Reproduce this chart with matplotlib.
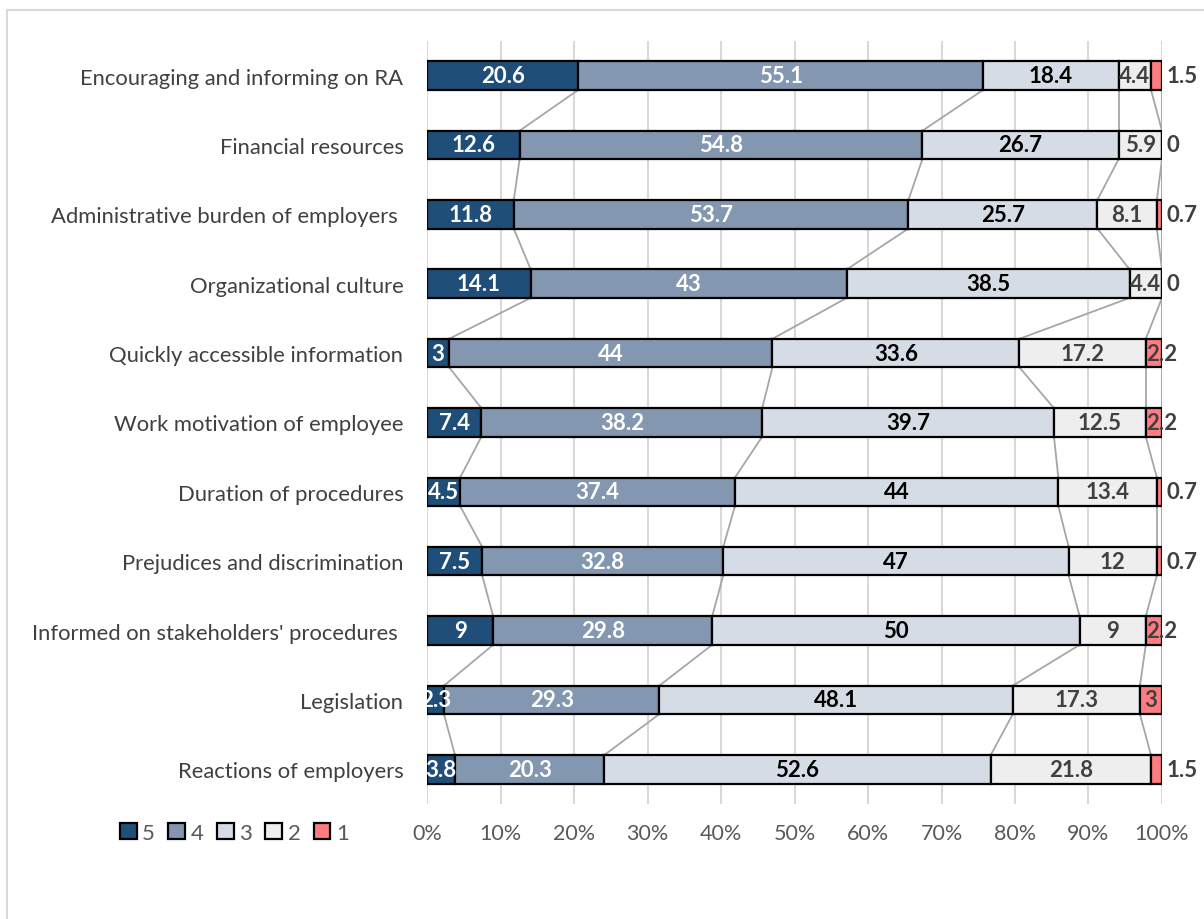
import matplotlib.pyplot as plt
import matplotlib.patches as mpatches
import numpy as np

plt.rcParams['font.family'] = ['Lato', 'DejaVu Sans']

categories = [
    "Encouraging and informing on RA",
    "Financial resources",
    "Administrative burden of employers ",
    "Organizational culture",
    "Quickly accessible information",
    "Work motivation of employee",
    "Duration of procedures",
    "Prejudices and discrimination",
    "Informed on stakeholders' procedures ",
    "Legislation",
    "Reactions of employers",
]
score_5 = [20.6, 12.6, 11.8, 14.1, 3, 7.4, 4.5, 7.5, 9, 2.3, 3.8]
score_4 = [55.1, 54.8, 53.7, 43, 44, 38.2, 37.4, 32.8, 29.8, 29.3, 20.3]
score_3 = [18.4, 26.7, 25.7, 38.5, 33.6, 39.7, 44, 47, 50, 48.1, 52.6]
score_2 = [4.4, 5.9, 8.1, 4.4, 17.2, 12.5, 13.4, 12, 9, 17.3, 21.8]
score_1 = [1.5, 0, 0.7, 0, 2.2, 2.2, 0.7, 0.7, 2.2, 3, 1.5]
series_names = ["5", "4", "3", "2", "1"]

colors = ["#1f4e79", "#8497b0", "#d6dce5", "#eeeeee", "#ff7c80"]
text_colors = ["white", "white", "black", "#404040", "#404040"]

data = np.array([score_5, score_4, score_3, score_2, score_1])
y = np.arange(len(categories))
bar_h = 0.41
val_fs = 16

fig = plt.figure(figsize=(12.04, 9.2), dpi=100)
ax = fig.add_axes([0.3547, 0.125, 0.6104, 0.8295])

# outer chart frame
fig.add_artist(mpatches.Rectangle((7 / 1204, -0.01), 1.0, 1 - 11 / 920 + 0.01,
                                  transform=fig.transFigure, fill=False,
                                  edgecolor="#d9d9d9", lw=1.5))

left = np.zeros(len(categories))
for k in range(5):
    ax.barh(y, data[k], left=left, height=bar_h, color=colors[k],
            edgecolor="black", linewidth=1.6, label=series_names[k], zorder=3)
    for i, v in enumerate(data[k]):
        if k < 4 or v >= 3:
            ax.text(left[i] + v / 2, y[i], f"{v:g}", ha="center", va="center",
                    color=text_colors[k], fontsize=val_fs, fontweight="bold", zorder=5)
        elif v >= 2:
            ax.text(left[i] + 0.1, y[i], f"{v:g}", ha="left", va="center",
                    color=text_colors[k], fontsize=val_fs, fontweight="bold", zorder=5)
        else:
            ax.text(100.6, y[i], f"{v:g}", ha="left", va="center",
                    color=text_colors[k], fontsize=val_fs, fontweight="bold", zorder=5)
    left = left + data[k]

# series lines between neighbouring bars
cum = np.cumsum(data, axis=0)
for k in range(5):
    for i in range(len(categories) - 1):
        ax.plot([cum[k][i], cum[k][i + 1]], [y[i] + bar_h / 2, y[i + 1] - bar_h / 2],
                color="#a6a6a6", lw=1.3, zorder=2)

ax.set_xlim(0, 100)
ax.set_ylim(len(categories) - 0.5, -0.5)
ax.set_yticks(y)
ax.set_yticklabels(categories, fontsize=15.8, color="#404040")
ax.set_xticks(np.arange(0, 101, 10))
ax.set_xticklabels([f"{t}%" for t in range(0, 101, 10)], fontsize=15.5, color="#595959")
ax.tick_params(axis="y", length=0, pad=17)
ax.tick_params(axis="x", length=0, pad=14)
ax.grid(axis="x", color="#d9d9d9", lw=1.5, zorder=0)
for s in ax.spines.values():
    s.set_visible(False)

fig.legend(loc="center left", bbox_to_anchor=(100 / 1204, 1 - 834 / 920), ncol=5,
           frameon=False, fontsize=16, handlelength=0.75, handleheight=0.75,
           handletextpad=0.25, columnspacing=0.6, labelcolor="#595959")

fig.savefig("out.png", dpi=100)
